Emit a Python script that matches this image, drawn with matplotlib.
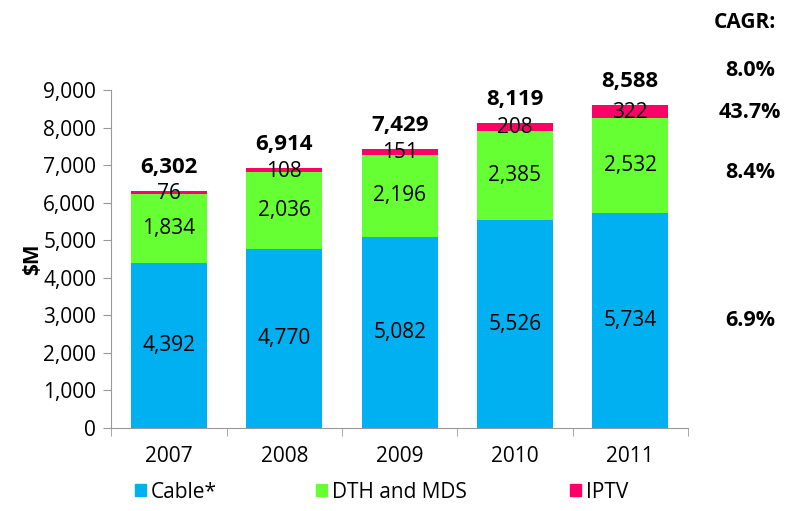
import numpy as np
import matplotlib.pyplot as plt
from matplotlib.patches import Patch

plt.rcParams['font.family'] = ['Open Sans', 'DejaVu Sans']

years = ['2007', '2008', '2009', '2010', '2011']
cable = [4392, 4770, 5082, 5526, 5734]
dth = [1834, 2036, 2196, 2385, 2532]
iptv = [76, 108, 151, 208, 322]
totals = [6302, 6914, 7429, 8119, 8588]
cagr_labels = ['8.0%', '43.7%', '8.4%', '6.9%']
cagr_y = [70, 112, 172, 320]  # pixel rows from top

c_cable = '#00B0F0'
c_dth = '#66FF33'
c_iptv = '#FF0066'

fig = plt.figure(figsize=(7.9, 5.11), dpi=100)
ax = fig.add_axes([0.1411, 0.1624, 0.7297, 0.6616])

x = np.arange(len(years))
w = 0.66
cable = np.array(cable)
dth = np.array(dth)
iptv = np.array(iptv)

ax.bar(x, cable, w, color=c_cable, label='Cable*')
ax.bar(x, dth, w, bottom=cable, color=c_dth, label='DTH and MDS')
ax.bar(x, iptv, w, bottom=cable + dth, color=c_iptv, label='IPTV')

fs = 15
for i in range(len(years)):
    ax.text(x[i], cable[i] / 2, f'{cable[i]:,}', ha='center', va='center', fontsize=fs)
    ax.text(x[i], cable[i] + dth[i] / 2, f'{dth[i]:,}', ha='center', va='center', fontsize=fs)
    ax.text(x[i], cable[i] + dth[i] + iptv[i] / 2 - 20, f'{iptv[i]:,}', ha='center', va='center', fontsize=fs)
    ax.text(x[i], totals[i] + 350, f'{totals[i]:,}', ha='center', va='bottom',
            fontsize=16, fontweight='bold')

ax.set_xlim(-0.5, 4.5)
ax.set_ylim(0, 9000)
ax.set_yticks(np.arange(0, 9001, 1000))
ax.yaxis.set_major_formatter(plt.FuncFormatter(lambda v, p: f'{int(v):,}'))
ax.set_xticks(x)
ax.set_xticklabels(years)
ax.set_xticks(np.arange(-0.5, 5, 1), minor=True)
ax.tick_params(axis='x', which='major', length=0, labelsize=fs, pad=13)
ax.tick_params(axis='x', which='minor', length=6, color='#999999')
ax.tick_params(axis='y', length=6, color='#999999', labelsize=fs, pad=5)
for s in ['top', 'right']:
    ax.spines[s].set_visible(False)
ax.spines['left'].set_color('#999999')
ax.spines['bottom'].set_color('#999999')
ax.set_ylabel('$M', fontsize=15, fontweight='bold', labelpad=0)

# legend entries placed individually to match the spread in the original
leg_names = ['Cable*', 'DTH and MDS', 'IPTV']
leg_colors = [c_cable, c_dth, c_iptv]
leg_x = [135, 316, 570]
for name, col, lx in zip(leg_names, leg_colors, leg_x):
    fig.legend([Patch(color=col)], [name], loc='center left',
               bbox_to_anchor=(lx / 790, 1 - 492 / 511), frameon=False, fontsize=fs,
               borderpad=0, borderaxespad=0, handlelength=0.55, handleheight=0.55,
               handletextpad=0.2)

fig.text(745 / 790, 1 - 22 / 511, 'CAGR:', ha='center', va='center', fontsize=15, fontweight='bold')
for lab, yy in zip(cagr_labels, cagr_y):
    fig.text(750 / 790, 1 - yy / 511, lab, ha='center', va='center', fontsize=15.5, fontweight='bold')

fig.savefig('out.png', dpi=100)
